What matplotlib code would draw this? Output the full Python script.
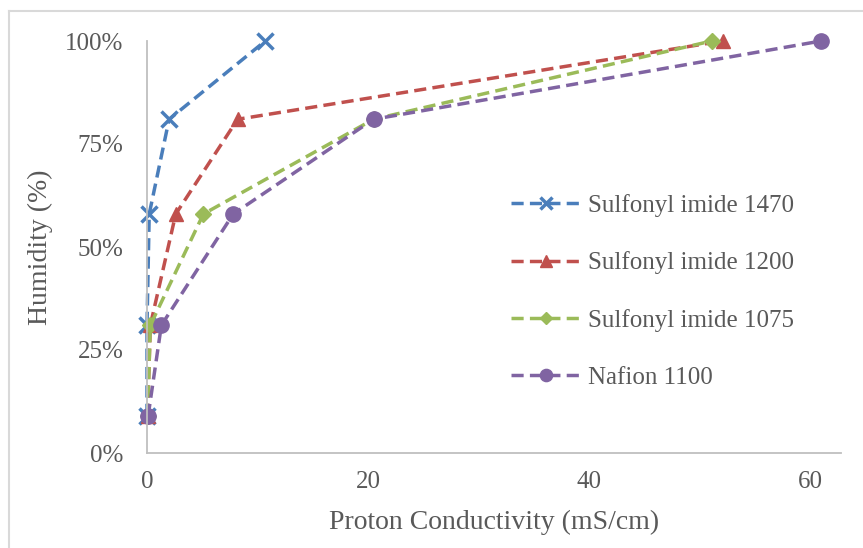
import matplotlib.pyplot as plt
from matplotlib.ticker import PercentFormatter
from matplotlib.lines import Line2D

# humidity levels (fraction) shared by all series
humidity = [0.09, 0.31, 0.58, 0.81, 1.00]

# proton conductivity (mS/cm) per membrane
si_1470 = [0.0, 0.0, 0.2, 2.0, 10.7]
si_1200 = [0.05, 0.3, 2.6, 8.2, 52.1]
si_1075 = [0.05, 0.3, 5.1, 20.5, 51.1]
nafion_1100 = [0.1, 1.3, 7.8, 20.5, 61.0]

labels = ['Sulfonyl imide 1470', 'Sulfonyl imide 1200',
          'Sulfonyl imide 1075', 'Nafion 1100']
x_ticks = [0, 20, 40, 60]
y_ticks = [0, 0.25, 0.5, 0.75, 1.0]

plt.rcParams['font.family'] = ['Liberation Serif', 'DejaVu Serif']
text_col = '#595959'

W, H = 863, 548
fig = plt.figure(figsize=(W / 100, H / 100), dpi=100)
# chart-area border (only the left and top edges fall inside the image)
fig.add_artist(Line2D([9 / W, 9 / W], [0, 1 - 11 / H], transform=fig.transFigure,
                      color='#D9D9D9', linewidth=1.5))
fig.add_artist(Line2D([9 / W, 1], [1 - 11 / H, 1 - 11 / H], transform=fig.transFigure,
                      color='#D9D9D9', linewidth=1.5))

ax = fig.add_axes([147 / W, 1 - 453 / H, 694 / W, 412 / H])

styles = [
    ('#4A7EBB', 'x', 11, 2.5),
    ('#C0504D', '^', 10, 1),
    ('#9BBB59', 'D', 8, 1),
    ('#8064A2', 'o', 11, 1),
]
series = [si_1470, si_1200, si_1075, nafion_1100]
for xs, lab, (col, mk, ms, mew) in zip(series, labels, styles):
    ax.plot(xs, humidity, color=col, linestyle=(0, (3.5, 1.8)), linewidth=2.5,
            marker=mk, markersize=ms, markeredgewidth=mew,
            markeredgecolor=col, markerfacecolor=col, label=lab,
            clip_on=False)

ax.set_xlim(0, 62.8)
ax.set_ylim(0, 1.0)
ax.set_xticks(x_ticks)
ax.set_yticks(y_ticks)
ax.yaxis.set_major_formatter(PercentFormatter(1.0, decimals=0))
ax.tick_params(length=0, labelsize=18, colors=text_col)
ax.tick_params(axis='x', pad=13)
ax.tick_params(axis='y', pad=17)

for s in ['top', 'right']:
    ax.spines[s].set_visible(False)
for s in ['left', 'bottom']:
    ax.spines[s].set_color('#BFBFBF')
    ax.spines[s].set_linewidth(1.3)

ax.set_xlabel('Proton Conductivity (mS/cm)', fontsize=20, color=text_col, labelpad=12)
ax.set_ylabel('Humidity (%)', fontsize=20, color=text_col, labelpad=9)

leg = ax.legend(loc='center left', bbox_to_anchor=(0.492, 0.392), frameon=False,
                fontsize=18, labelspacing=1.38, handlelength=2.8,
                handletextpad=0.3, markerscale=0.8)
for t in leg.get_texts():
    t.set_color(text_col)

fig.savefig('out.png', dpi=100)
